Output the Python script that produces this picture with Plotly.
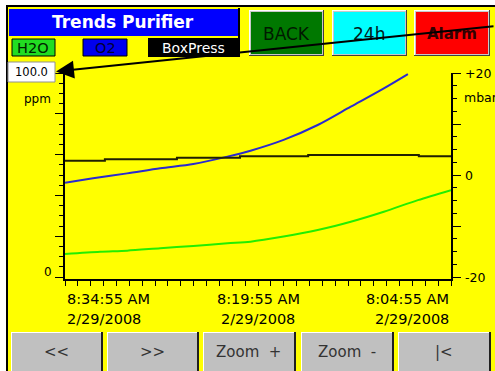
import plotly.graph_objects as go

# ---------------- data ----------------
# time axis: minutes before 8:34:55 AM (left = 8:34:55, right = 8:04:55)
o2_minutes = [0, 2.18, 4.83, 7.40, 9.97, 12.62, 14.42, 16.99, 19.64, 22.21, 24.78, 26.65]
o2_ppm = [46.2, 48.4, 50.8, 53.3, 55.4, 59.0, 61.9, 67.2, 74.5, 83.5, 92.5, 99.5]

h2o_minutes = [0, 2.73, 4.83, 7.40, 9.97, 12.62, 14.42, 16.99, 19.64, 22.21, 24.78, 27.43, 30]
h2o_ppm = [11.3, 12.4, 12.9, 14.1, 15.2, 16.5, 17.3, 19.8, 23.0, 27.1, 32.0, 37.7, 42.6]

box_minutes = [0, 3.1, 8.7, 13.6, 18.9, 27.5, 30]
box_mbar = [2.8, 3.1, 3.4, 3.7, 3.9, 3.7, 3.7]

x_tick_minutes = [0, 15, 30]
x_tick_time = ["8:34:55 AM", "8:19:55 AM", "8:04:55 AM"]
x_tick_date = ["2/29/2008", "2/29/2008", "2/29/2008"]

left_range = [-0.98, 100]
right_range = [-20.39, 20]
right_labels = ["+20", "0", "-20"]
right_label_vals = [20, 0, -20]

bottom_buttons = ["<<", ">>", "Zoom  +", "Zoom  -", "|<"]

# ---------------- layout helpers ----------------
W, H = 495, 371
FONT = "DejaVu Sans"


def fx(px):
    return px / W


def fy(py):
    return 1 - py / H


shapes = []
annotations = []


def rect(x0, y0, x1, y1, fill, line=None, lw=0, layer="above"):
    shapes.append(dict(type="rect", xref="paper", yref="paper",
                       x0=fx(x0), x1=fx(x1), y0=fy(y1), y1=fy(y0),
                       fillcolor=fill, layer=layer,
                       line=dict(color=line or fill, width=lw)))


def seg(x0, y0, x1, y1, color, lw=1):
    shapes.append(dict(type="line", xref="paper", yref="paper",
                       x0=fx(x0), x1=fx(x1), y0=fy(y0), y1=fy(y1),
                       line=dict(color=color, width=lw)))


def text(x, y, s, size=13, color="black", bold=False, xanchor="center"):
    if bold:
        s = "<b>" + s + "</b>"
    annotations.append(dict(xref="paper", yref="paper", x=fx(x), y=fy(y),
                            text=s, showarrow=False, xanchor=xanchor,
                            yanchor="middle",
                            font=dict(family=FONT, size=size, color=color)))


def bevel_button(x0, y0, x1, y1, fill):
    rect(x0, y0, x1, y1, "#c8c8c8")
    rect(x0 + 2, y0 + 2, x1 - 2, y1 - 2, fill)
    seg(x0, y0 + 0.5, x1, y0 + 0.5, "#ffffff", 1)
    seg(x0 + 0.5, y0, x0 + 0.5, y1, "#ffffff", 1)
    seg(x0, y1 - 0.5, x1, y1 - 0.5, "#404040", 1)
    seg(x1 - 0.5, y0, x1 - 0.5, y1, "#404040", 1)


# panel background (below the plot)
rect(7, 6, 497, 373, "#ffff00", "#000000", 2, layer="below")

# title bar
rect(9, 9, 238, 36, "#0000ff")
text(123, 22, "Trends Purifier", 17, "white", bold=True)

# legend labels
rect(12, 39, 55, 56, "#22dd22", "#000000", 1)
text(33, 48, "H2O", 14.5, "#002200")
rect(83, 39, 127, 56, "#0000ee", "#000000", 1)
text(105, 48, "O2", 14.5, "#000033")
rect(148, 38, 239, 57, "#000000")
text(193, 48, "BoxPress", 14, "white")
seg(239, 8, 239, 57, "#000000", 2)

# top buttons
bevel_button(249, 10, 324, 56, "#007800")
text(286, 34, "BACK", 17, "#001a00")
bevel_button(332, 10, 407, 56, "#00ffff")
text(369, 34, "24h", 17, "#002020")
bevel_button(414, 10, 490, 56, "#ff0000")
text(452, 34, "Alarm", 15, "#330000", bold=True)

# value box
rect(8, 62, 55, 82, "#ffffff", "#909090", 1)
text(31, 72, "100.0", 11.5, "black")

# axis unit / end labels
text(37, 99, "ppm", 12, "black")
text(48, 272, "0", 12, "black")
for v, s in zip(right_label_vals, right_labels):
    py = 73 + (right_range[1] - v) / (right_range[1] - right_range[0]) * (279 - 73)
    text(463, py, s, 12.5, "black", xanchor="left")
text(462, 98, "mbar", 12.5, "black", xanchor="left")

# x tick labels
anchors = ["left", "center", "right"]
for m, t, d, a in zip(x_tick_minutes, x_tick_time, x_tick_date, anchors):
    annotations.append(dict(xref="x", yref="paper", x=m, y=fy(299), text=t,
                            showarrow=False, xanchor=a, yanchor="middle",
                            font=dict(family=FONT, size=14.5, color="black")))
    annotations.append(dict(xref="x", yref="paper", x=m, y=fy(319), text=d,
                            showarrow=False, xanchor=a, yanchor="middle",
                            font=dict(family=FONT, size=14.5, color="black")))

# bottom buttons
bx = [(11, 101), (107, 197), (203, 294), (301, 392), (398, 489)]
for (x0, x1), lab in zip(bx, bottom_buttons):
    rect(x0, 332, x1, 375, "#c0c0c0")
    seg(x0, 332.5, x1, 332.5, "#ffffff", 1)
    seg(x0 + 0.5, 332, x0 + 0.5, 375, "#ffffff", 1)
    seg(x1 + 1, 332, x1 + 1, 375, "#202020", 2)
    text((x0 + x1) / 2, 352, lab, 15, "#333333")

# arrow pointing to the value box
annotations.append(dict(xref="paper", yref="paper", x=fx(56), y=fy(71.5),
                        ax=495 - 56, ay=26 - 71.5, axref="pixel", ayref="pixel",
                        text="", showarrow=True, arrowhead=2, arrowsize=1.8,
                        arrowwidth=2, arrowcolor="black"))

# ---------------- traces ----------------
fig = go.Figure()
fig.add_trace(go.Scatter(x=h2o_minutes, y=h2o_ppm, mode="lines", name="H2O",
                         line=dict(color="#22ee00", width=2, shape="spline",
                                   smoothing=0.8)))
fig.add_trace(go.Scatter(x=o2_minutes, y=o2_ppm, mode="lines", name="O2",
                         line=dict(color="#2a2ad0", width=2, shape="spline",
                                   smoothing=0.8)))
fig.add_trace(go.Scatter(x=box_minutes, y=box_mbar, mode="lines", name="BoxPress",
                         line=dict(color="#202000", width=2, shape="hv"),
                         yaxis="y2"))

fig.update_layout(
    width=W, height=H, autosize=False,
    margin=dict(l=0, r=0, t=0, b=0, pad=0),
    paper_bgcolor="#ffffff", plot_bgcolor="rgba(0,0,0,0)",
    showlegend=False, hovermode=False,
    shapes=shapes, annotations=annotations,
    xaxis=dict(domain=[fx(65), fx(451)], range=[0, 30], showgrid=False,
               zeroline=False, showline=True, linecolor="black", linewidth=2,
               ticks="outside", ticklen=5, tickwidth=1, tickcolor="black",
               dtick=1, tick0=0, showticklabels=False),
    yaxis=dict(domain=[fy(279), fy(73)], range=left_range, showgrid=False,
               zeroline=False, showline=True, linecolor="black", linewidth=2,
               ticks="outside", ticklen=8, tickwidth=1, tickcolor="black",
               tick0=0, dtick=20, showticklabels=False,
               minor=dict(ticks="outside", ticklen=4, tickcolor="black",
                          dtick=5, tick0=0, showgrid=False)),
    yaxis2=dict(domain=[fy(279), fy(73)], range=right_range, overlaying="y",
                side="right", anchor="x", showgrid=False, zeroline=False,
                showline=True, linecolor="black", linewidth=2,
                ticks="outside", ticklen=8, tickwidth=1, tickcolor="black",
                tick0=0, dtick=10, showticklabels=False,
                minor=dict(ticks="outside", ticklen=4, tickcolor="black",
                           dtick=2.5, tick0=0, showgrid=False)),
)

fig.write_html("out.html", config={"displayModeBar": False},
               post_script="document.body.style.margin='0px';"
                           "document.body.style.padding='0px';"
                           "document.body.style.overflow='hidden';")
